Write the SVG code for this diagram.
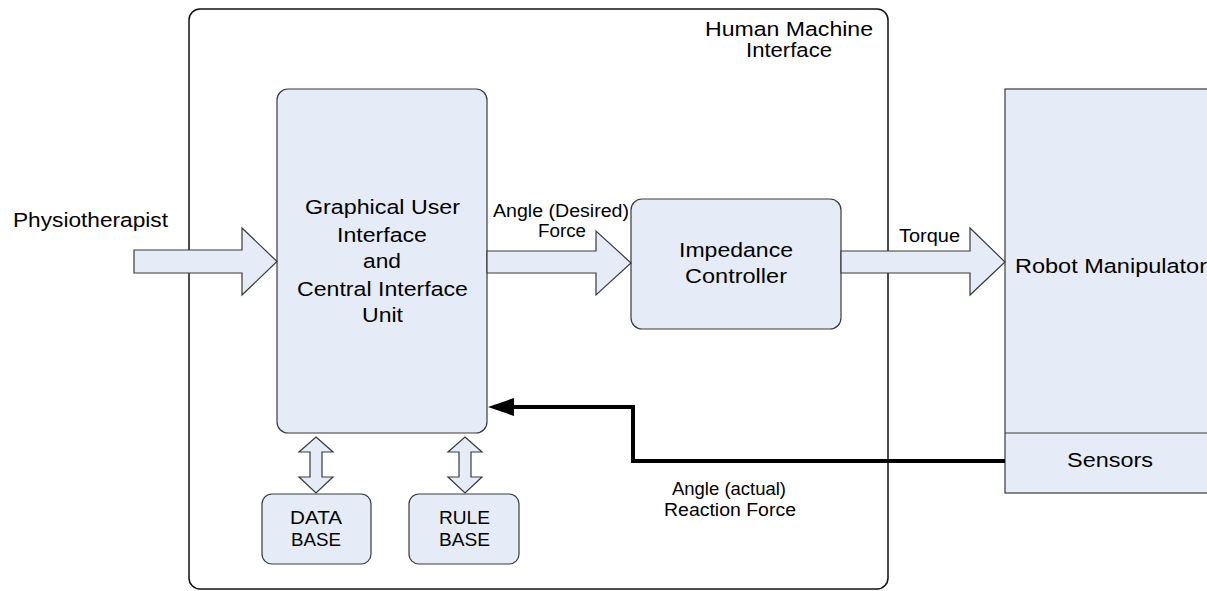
<svg xmlns="http://www.w3.org/2000/svg" width="1207" height="591" viewBox="0 0 1207 591">
<style>
.box{fill:#E6ECF7;stroke:#3a3a3a;stroke-width:1.2}
.arr{fill:#E6ECF7;stroke:#3a3a3a;stroke-width:1.2;stroke-linejoin:miter}
.frame{fill:none;stroke:#111;stroke-width:1.5}
text{font-family:"Liberation Sans",Arial,sans-serif;fill:#000}
.t{font-size:20.5px}
.s{font-size:17.5px}
.fb{fill:none;stroke:#000;stroke-width:4}
</style>
<rect x="0" y="0" width="1207" height="591" fill="#fff"/>
<g id="hmi">
<rect class="frame" x="189" y="9" width="699" height="580" rx="11"/>
<text class="t" x="705" y="36" textLength="168" lengthAdjust="spacingAndGlyphs">Human Machine</text>
<text class="t" x="746" y="57" textLength="86" lengthAdjust="spacingAndGlyphs">Interface</text>
</g>
<g id="physio">
<text class="t" x="13" y="227" textLength="155" lengthAdjust="spacingAndGlyphs">Physiotherapist</text>
</g>
<g id="gui">
<rect class="box" x="277" y="89" width="210" height="344" rx="11"/>
<text class="t" x="305" y="214" textLength="155" lengthAdjust="spacingAndGlyphs">Graphical User</text>
<text class="t" x="337" y="242" textLength="90" lengthAdjust="spacingAndGlyphs">Interface</text>
<text class="t" x="363" y="268" textLength="38" lengthAdjust="spacingAndGlyphs">and</text>
<text class="t" x="297" y="296" textLength="171" lengthAdjust="spacingAndGlyphs">Central Interface</text>
<text class="t" x="362" y="322" textLength="41" lengthAdjust="spacingAndGlyphs">Unit</text>
</g>
<g id="impedance">
<rect class="box" x="631" y="199" width="210" height="130" rx="11"/>
<text class="t" x="679" y="257" textLength="114" lengthAdjust="spacingAndGlyphs">Impedance</text>
<text class="t" x="685" y="283" textLength="102" lengthAdjust="spacingAndGlyphs">Controller</text>
</g>
<g id="robot">
<rect class="box" x="1005" y="89" width="210" height="404"/>
<line x1="1005" y1="433" x2="1207" y2="433" stroke="#3a3a3a" stroke-width="1.2"/>
<text class="t" x="1015" y="273" textLength="192" lengthAdjust="spacingAndGlyphs">Robot Manipulator</text>
<text class="t" x="1067" y="467" textLength="86" lengthAdjust="spacingAndGlyphs">Sensors</text>
</g>
<g id="database">
<rect class="box" x="262" y="494" width="109" height="70" rx="10"/>
<text class="s" x="290" y="524" textLength="52" lengthAdjust="spacingAndGlyphs">DATA</text>
<text class="s" x="291" y="546" textLength="50" lengthAdjust="spacingAndGlyphs">BASE</text>
</g>
<g id="rulebase">
<rect class="box" x="409" y="494" width="110" height="70" rx="10"/>
<text class="s" x="439" y="524" textLength="51" lengthAdjust="spacingAndGlyphs">RULE</text>
<text class="s" x="439" y="546" textLength="51" lengthAdjust="spacingAndGlyphs">BASE</text>
</g>
<g id="connectors">
<path class="arr" d="M134,250 H242 V228 L277,261.5 L242,295 V273 H134 Z"/>
<path class="arr" d="M487,251 H596 V231 L631,263 L596,295 V273 H487 Z"/>
<path class="arr" d="M841,251 H970 V228 L1005,262 L970,295 V273 H841 Z"/>
<path class="arr" d="M316,437 L333,452 H322 V477 H333 L316,493 L299,477 H310 V452 H299 Z"/>
<path class="arr" d="M465,437 L482,452 H471 V477 H482 L465,493 L448,477 H459 V452 H448 Z"/>
<path class="fb" d="M1005,461 H633 V407 H513"/>
<path d="M488,407 L514,398 L514,416 Z" fill="#000"/>
<text class="s" x="493" y="217" textLength="136" lengthAdjust="spacingAndGlyphs">Angle (Desired)</text>
<text class="s" x="538" y="237" textLength="48" lengthAdjust="spacingAndGlyphs">Force</text>
<text class="s" x="899" y="242" textLength="61" lengthAdjust="spacingAndGlyphs">Torque</text>
<text class="s" x="672" y="495" textLength="114" lengthAdjust="spacingAndGlyphs">Angle (actual)</text>
<text class="s" x="664" y="516" textLength="132" lengthAdjust="spacingAndGlyphs">Reaction Force</text>
</g>
</svg>
